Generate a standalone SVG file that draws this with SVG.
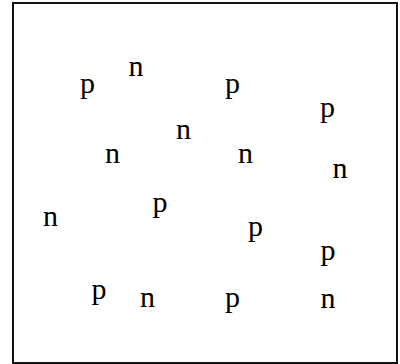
<svg xmlns="http://www.w3.org/2000/svg" width="400" height="364" viewBox="0 0 400 364">
<style>
text{font-family:"Liberation Serif","Times New Roman",serif;font-size:30px;fill:#000}
</style>
<rect width="400" height="364" fill="#fff"/>
<rect x="13" y="3" width="384" height="360" fill="none" stroke="#111" stroke-width="2"/>
<g id="letters">
<text id="p1" x="80" y="93">p</text>
<text id="n1" x="128.5" y="76">n</text>
<text id="n2" x="176" y="139">n</text>
<text id="n3" x="105" y="163">n</text>
<text id="p2" x="225" y="93">p</text>
<text id="p3" x="320" y="117">p</text>
<text id="n4" x="238" y="163">n</text>
<text id="n5" x="332.5" y="178">n</text>
<text id="n6" x="43" y="226">n</text>
<text id="p4" x="152.5" y="212">p</text>
<text id="p5" x="91.5" y="299">p</text>
<text id="n7" x="140" y="307">n</text>
<text id="p6" x="248" y="236">p</text>
<text id="p7" x="320.5" y="260">p</text>
<text id="p8" x="225" y="307">p</text>
<text id="n8" x="320.5" y="308">n</text>
</g>
</svg>
